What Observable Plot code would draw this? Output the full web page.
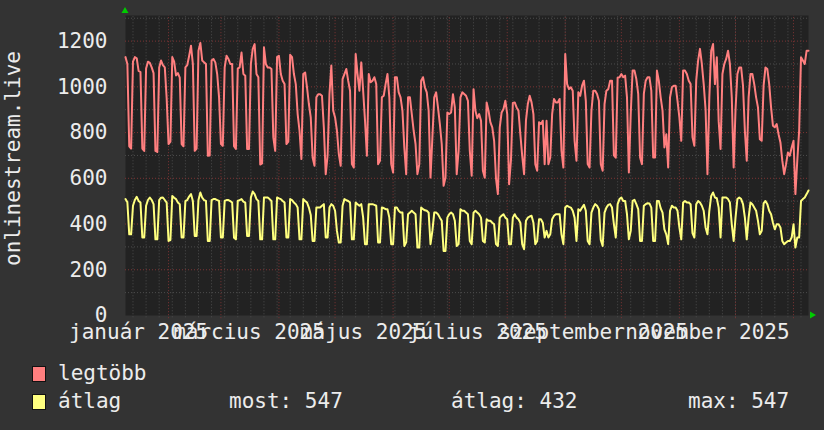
<!DOCTYPE html>
<html>
<head>
<meta charset="utf-8">
<script src="https://cdn.jsdelivr.net/npm/d3@7"></script>
<script src="https://cdn.jsdelivr.net/npm/@observablehq/plot@0.6"></script>
<style>
  html, body { margin: 0; padding: 0; background: #333333; }
  #wrap { position: relative; width: 824px; height: 430px; background: #333333; overflow: hidden; }
  .lg { position: absolute; font-family: "DejaVu Sans Mono", monospace; font-size: 21px; line-height: 22px; color: #ececec; white-space: pre; }
  .sw { position: absolute; width: 12px; height: 14px; border: 1px solid #111; }
</style>
</head>
<body>
<div id="wrap"></div>
<script>
// ---- data (daily values from 2025-01-09) ----
const startDate = "2025-01-09";
const legtobb = [
  1130, 1100, 740, 730,
  1110, 1130, 1125, 1070, 1065, 730, 720,
  1080, 1110, 1105, 1085, 1060, 720, 715,
  1085, 1115, 1095, 1085, 950, 750, 760,
  1130, 1110, 1050, 1060, 1040, 750, 740,
  1085, 1095, 1135, 1180, 1100, 720, 730,
  1158, 1192, 1115, 1107, 1100, 699, 700,
  1115, 1122, 1107, 1056, 954, 750, 742,
  1085, 1136, 1122, 1100, 1100, 740, 728,
  1080, 1085, 1150, 1056, 1049, 728, 728,
  1100, 1166, 1187, 1056, 1042, 660, 665,
  1173, 1100, 1085, 1085, 1078, 779, 720,
  1130, 1136, 1056, 1027, 1012, 750, 760,
  1140, 1130, 1056, 1012, 881, 808, 684,
  1056, 1063, 998, 925, 866, 691, 655,
  954, 968, 968, 961, 822, 618, 700,
  968, 1093, 896, 866, 808, 706, 655,
  1034, 1056, 1078, 1027, 983, 662, 647,
  1144, 1056, 983, 1107, 983, 852, 699,
  1056, 1020, 1027, 1042, 1012, 662, 677,
  954, 961, 1012, 1056, 954, 662, 625,
  1042, 1042, 976, 954, 896, 735, 618,
  954, 954, 881, 808, 750, 618, 662,
  1027, 1042, 998, 976, 896, 603, 779,
  954, 976, 910, 837, 750, 567, 603,
  888, 881, 888, 968, 910, 618, 720,
  954, 976, 969, 961, 939, 720, 611,
  990, 896, 863, 881, 852, 633, 603,
  932, 896, 845, 823, 764, 600, 531,
  823, 888, 903, 939, 881, 574, 680,
  930, 932, 910, 896, 793, 699, 618,
  852, 925, 961, 932, 881, 662, 633,
  845, 837, 852, 662, 852, 662, 691,
  881, 947, 932, 932, 947, 720, 647,
  1144, 1012, 990, 998, 983, 764, 677,
  976, 961, 1005, 1027, 939, 662, 647,
  896, 983, 983, 969, 939, 662, 633,
  925, 983, 990, 1027, 1027, 700, 690,
  1040, 1042, 1056, 1042, 1049, 954, 625,
  881, 1071, 1071, 1034, 969, 691, 662,
  969, 1027, 1042, 1042, 983, 691, 691,
  1071, 1027, 954, 896, 735, 793, 647,
  954, 998, 1005, 1005, 939, 866, 764,
  1071, 1071, 1056, 1027, 1012, 780, 742,
  1027, 1115, 1166, 1100, 1012, 900, 618,
  954, 1158, 1187, 1012, 1129, 850, 728,
  1056, 1100, 1122, 1158, 1100, 954, 647,
  900, 1056, 1085, 1085, 1005, 808, 677,
  954, 1056, 1056, 1012, 954, 910, 771,
  764, 1005, 1085, 1078, 1012, 910, 830,
  823, 837, 793, 757, 677, 618, 662,
  713, 699, 735, 764, 531, 677, 808,
  1129, 1115, 1100, 1158, 1158
];
const atlag = [
  509, 495, 355, 355,
  480, 505, 519, 501, 494, 341, 341,
  480, 505, 516, 505, 487, 333, 333,
  505, 515, 516, 505, 494, 326, 330,
  523, 515, 509, 494, 487, 341, 341,
  500, 505, 520, 531, 501, 348, 348,
  505, 538, 515, 505, 501, 326, 326,
  505, 509, 509, 505, 501, 341, 341,
  501, 505, 505, 500, 494, 340, 333,
  501, 505, 509, 498, 494, 348, 348,
  516, 542, 531, 509, 501, 333, 333,
  516, 516, 516, 509, 501, 333, 333,
  516, 512, 509, 501, 494, 341, 341,
  509, 505, 494, 487, 472, 333, 333,
  509, 501, 494, 472, 440, 326, 326,
  472, 472, 472, 480, 487, 341, 341,
  472, 487, 480, 458, 370, 319, 319,
  480, 509, 504, 501, 494, 333, 333,
  494, 487, 480, 487, 428, 312, 312,
  487, 487, 487, 484, 480, 319, 319,
  472, 470, 465, 465, 428, 312, 312,
  472, 472, 458, 450, 450, 304, 320,
  443, 450, 458, 450, 443, 297, 297,
  472, 465, 460, 458, 450, 312, 370,
  450, 450, 443, 428, 414, 282, 282,
  428, 443, 450, 443, 414, 304, 312,
  465, 458, 458, 450, 443, 326, 312,
  450, 458, 450, 443, 428, 326, 319,
  421, 414, 414, 406, 399, 312, 304,
  428, 436, 443, 428, 421, 312, 312,
  428, 443, 428, 421, 406, 312, 290,
  414, 428, 433, 436, 406, 312, 326,
  421, 421, 406, 341, 370, 341, 355,
  421, 436, 443, 443, 443, 355, 312,
  472, 480, 475, 472, 458, 428, 326,
  465, 458, 472, 484, 458, 326, 312,
  450, 472, 487, 480, 465, 330, 304,
  450, 472, 484, 487, 472, 400, 341,
  487, 509, 516, 501, 501, 443, 333,
  370, 501, 506, 487, 465, 326, 326,
  480, 487, 491, 490, 472, 326, 326,
  501, 501, 469, 450, 377, 355, 312,
  458, 480, 472, 472, 458, 385, 333,
  494, 501, 494, 494, 487, 360, 341,
  487, 501, 494, 480, 458, 385, 355,
  458, 523, 538, 516, 513, 472, 341,
  516, 516, 516, 509, 494, 399, 326,
  428, 509, 516, 509, 487, 428, 333,
  428, 494, 487, 472, 458, 414, 355,
  370, 490, 501, 487, 458, 443, 406,
  377, 399, 399, 385, 326, 312, 319,
  326, 326, 341, 399, 297, 341, 341,
  501, 509, 516, 531, 547
];
const yTicks = [0, 200, 400, 600, 800, 1000, 1200];
const monthLabels = ["január 2025", "március 2025", "május 2025", "július 2025", "szeptember 2025", "november 2025"];
const monthLabelDates = ["2025-01-16", "2025-03-16", "2025-05-16", "2025-07-16", "2025-09-16", "2025-11-16"];
const yTitle = "onlinestream.live";
const seriesNames = ["legtöbb", "átlag"];
const seriesColors = ["#ff7f7f", "#ffff7f"];
const statLabels = ["most: 547", "átlag: 432", "max: 547"];

// ---- build ----
const t0 = new Date(startDate + "T00:00:00Z");
const DAY = 864e5;
const rows = legtobb.map((v, i) => ({date: new Date(+t0 + i * DAY), legtobb: v, atlag: atlag[i]}));
const tEnd = new Date(+t0 + 365 * DAY);
const mondays = d3.utcMonday.range(new Date(+t0 + DAY), tEnd);
const monthStarts = d3.utcMonth.range(new Date(+t0 + DAY), tEnd);
const labelMap = new Map(monthLabelDates.map((d, i) => [+new Date(d + "T00:00:00Z"), monthLabels[i]]));
const labelDates = monthLabelDates.map(d => new Date(d + "T00:00:00Z"));
const minorY = d3.range(100, 1400, 100).filter(v => v % 200 !== 0);
const majorY = d3.range(200, 1400, 200);

const gridMinor = "#4c4c4c";
const gridMajor = "#7d3434";
const textColor = "#ececec";

const chart = Plot.plot({
  width: 824,
  height: 350,
  marginLeft: 125,
  marginRight: 16,
  marginTop: 15,
  marginBottom: 35,
  style: {background: "transparent", fontFamily: "'DejaVu Sans Mono', monospace", fontSize: "21px", color: textColor, overflow: "visible"},
  x: {type: "utc", domain: [t0, tEnd]},
  y: {domain: [0, 1312]},
  marks: [
    Plot.frame({fill: "#222222", stroke: null}),
    Plot.ruleY(minorY, {stroke: gridMinor, strokeDasharray: "1,2"}),
    Plot.ruleX(mondays, {stroke: gridMinor, strokeDasharray: "1,2", y1: -10, y2: 1312}),
    Plot.ruleY(majorY, {stroke: gridMajor, strokeDasharray: "1,2"}),
    Plot.ruleX(monthStarts, {stroke: gridMajor, strokeDasharray: "1,2", y1: -14, y2: 1312}),
    Plot.axisY({ticks: yTicks, tickFormat: d => String(d), tickSize: 0, tickPadding: 18, label: null, fontSize: 21}),
    Plot.axisX({ticks: labelDates, tickFormat: d => labelMap.get(+d), tickSize: 0, tickPadding: 9, label: null, fontSize: 21}),
    Plot.text([yTitle], {frameAnchor: "left", dx: -112.5, dy: -7, rotate: -90, fill: textColor, fontSize: 21, textAnchor: "middle", lineAnchor: "middle"}),
    Plot.line(rows, {x: "date", y: "legtobb", stroke: seriesColors[0], strokeWidth: 2}),
    Plot.line(rows, {x: "date", y: "atlag", stroke: seriesColors[1], strokeWidth: 2})
  ]
});

// arrows at axis ends
const svg = d3.select(chart);
svg.append("polygon").attr("points", "121.5,13 128.5,13 125,7").attr("fill", "#00cc00");
svg.append("polygon").attr("points", "810,311.5 810,318.5 816,315").attr("fill", "#00cc00");

const wrap = document.getElementById("wrap");
wrap.appendChild(chart);
chart.style.position = "absolute";
chart.style.left = "0px";
chart.style.top = "0px";

// legend
function sw(x, y, c) { const e = document.createElement("div"); e.className = "sw"; e.style.left = x + "px"; e.style.top = y + "px"; e.style.background = c; wrap.appendChild(e); }
function lg(x, cy, t) { const e = document.createElement("div"); e.className = "lg"; e.style.left = x + "px"; e.style.top = (cy - 11) + "px"; e.textContent = t; wrap.appendChild(e); }
sw(32, 366, seriesColors[0]);
lg(58, 373, seriesNames[0]);
sw(32, 394, seriesColors[1]);
lg(58, 401, seriesNames[1]);
lg(229, 401, statLabels[0]);
lg(451, 401, statLabels[1]);
lg(688, 401, statLabels[2]);
</script>
</body>
</html>
